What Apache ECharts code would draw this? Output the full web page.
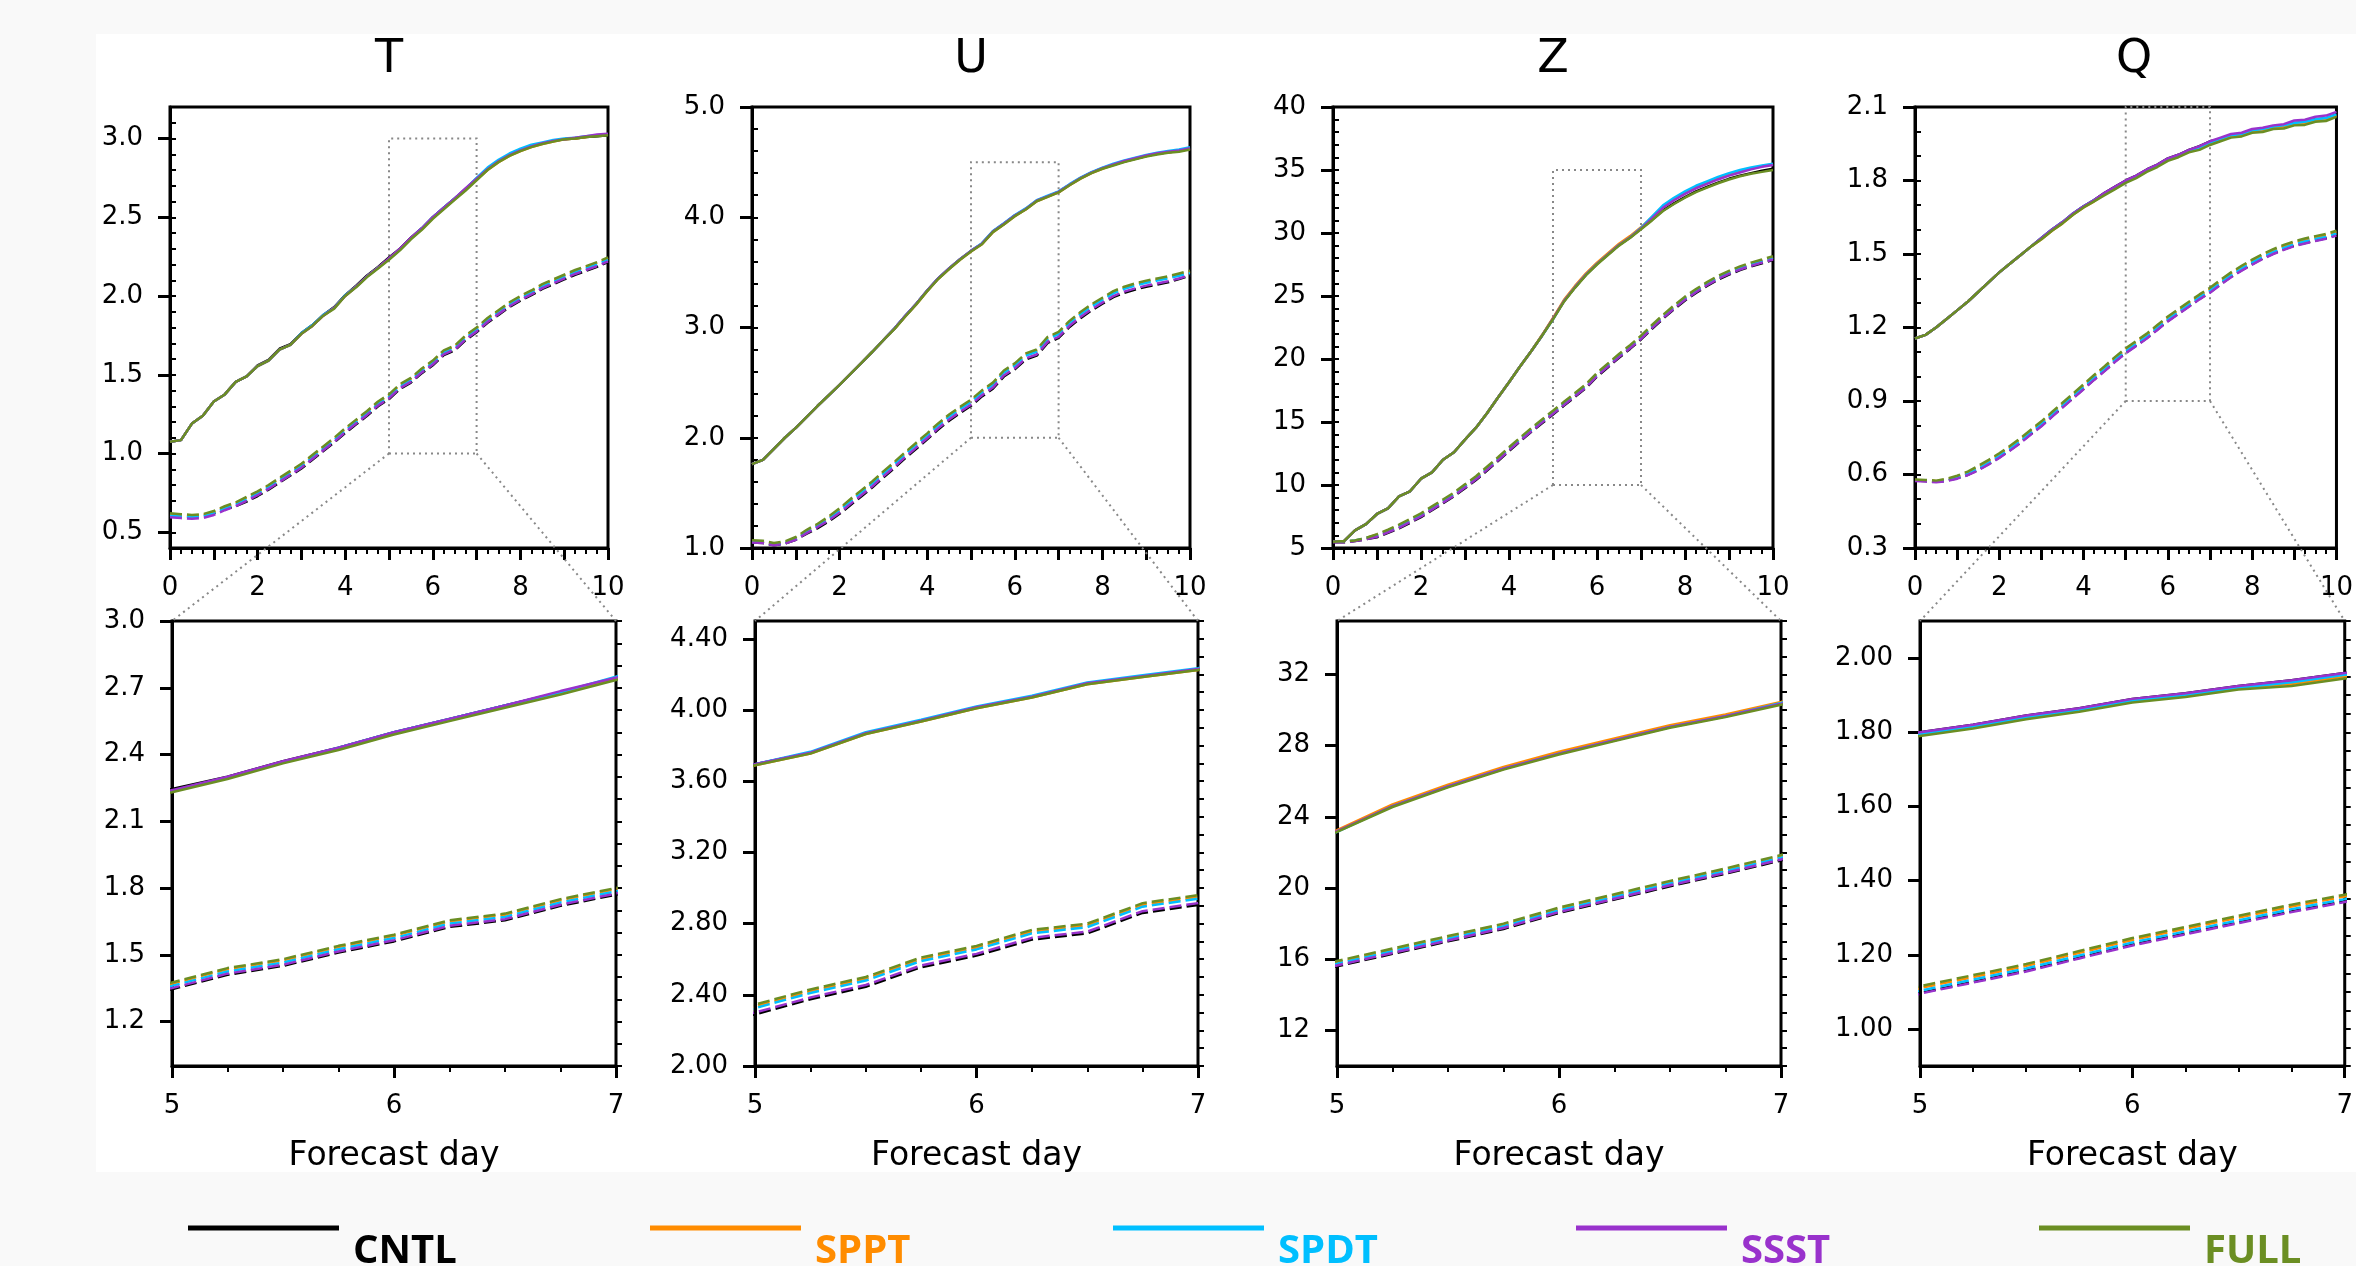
<!DOCTYPE html>
<html>
<head>
<meta charset="utf-8">
<title>RMSE and spread</title>
<script src="https://cdn.jsdelivr.net/npm/echarts@6/dist/echarts.min.js"></script>
<style>
  html, body { margin: 0; padding: 0; background: #f9f9f9; }
  #main { width: 2356px; height: 1266px; }
</style>
</head>
<body>
<div id="main"></div>
<script>
// forecast lead time (days), 6-hourly
var DAYS = [0, 0.25, 0.5, 0.75, 1, 1.25, 1.5, 1.75, 2, 2.25, 2.5, 2.75, 3, 3.25, 3.5, 3.75, 4, 4.25, 4.5, 4.75,
  5, 5.25, 5.5, 5.75, 6, 6.25, 6.5, 6.75, 7, 7.25, 7.5, 7.75, 8, 8.25, 8.5, 8.75, 9, 9.25, 9.5, 9.75, 10];

var EXPERIMENTS = ['CNTL', 'SPPT', 'SPDT', 'SSST', 'FULL'];
var COLORS = ['#000000', '#ff8c00', '#00bfff', '#9932cc', '#6b8e23'];

var X_LABELS = [0, 2, 4, 6, 8, 10];
var X_RANGE = [0, 10];
var ZOOM_DAYS = [5, 7];
var ZOOM_X_LABELS = [5, 6, 7];

// ---- T ----
var T_RANGE = [0.4, 3.2];
var T_TICKS = [0.5, 1.0, 1.5, 2.0, 2.5, 3.0];
var T_ZOOM_RANGE = [1.0, 3.0];
var T_ZOOM_TICKS = [1.2, 1.5, 1.8, 2.1, 2.4, 2.7, 3.0];
var T_RMSE_CNTL = [1.075, 1.085, 1.19, 1.24, 1.33, 1.375, 1.455, 1.49, 1.56, 1.595, 1.665, 1.695, 1.765, 1.815, 1.88, 1.93, 2.005, 2.065, 2.13, 2.185, 2.245, 2.3, 2.37, 2.43, 2.5, 2.56, 2.62, 2.68, 2.745, 2.805, 2.855, 2.895, 2.925, 2.95, 2.97, 2.985, 2.995, 3.0, 3.01, 3.015, 3.02];
var T_RMSE_SPPT = [1.075, 1.085, 1.19, 1.24, 1.33, 1.375, 1.455, 1.49, 1.555, 1.59, 1.66, 1.69, 1.76, 1.81, 1.875, 1.925, 2.0, 2.06, 2.125, 2.18, 2.235, 2.295, 2.365, 2.425, 2.495, 2.555, 2.615, 2.675, 2.74, 2.8, 2.85, 2.89, 2.92, 2.945, 2.965, 2.98, 2.995, 3.0, 3.01, 3.02, 3.025];
var T_RMSE_SPDT = [1.075, 1.085, 1.19, 1.24, 1.33, 1.375, 1.455, 1.49, 1.555, 1.59, 1.66, 1.69, 1.765, 1.815, 1.88, 1.925, 2.005, 2.06, 2.125, 2.18, 2.235, 2.295, 2.365, 2.43, 2.5, 2.56, 2.62, 2.68, 2.75, 2.815, 2.865, 2.905, 2.935, 2.96, 2.975, 2.99, 3.0, 3.005, 3.015, 3.02, 3.025];
var T_RMSE_SSST = [1.075, 1.085, 1.19, 1.24, 1.33, 1.375, 1.455, 1.49, 1.555, 1.59, 1.66, 1.69, 1.76, 1.81, 1.875, 1.925, 2.0, 2.06, 2.125, 2.18, 2.24, 2.3, 2.37, 2.43, 2.5, 2.56, 2.62, 2.685, 2.745, 2.805, 2.855, 2.895, 2.925, 2.95, 2.97, 2.985, 2.995, 3.005, 3.015, 3.025, 3.03];
var T_RMSE_FULL = [1.075, 1.085, 1.19, 1.24, 1.33, 1.375, 1.455, 1.49, 1.555, 1.59, 1.66, 1.69, 1.76, 1.81, 1.875, 1.92, 2.0, 2.055, 2.12, 2.175, 2.23, 2.29, 2.36, 2.42, 2.49, 2.55, 2.61, 2.67, 2.735, 2.8, 2.85, 2.89, 2.92, 2.945, 2.965, 2.98, 2.995, 3.0, 3.01, 3.015, 3.02];
var T_SPREAD_CNTL = [0.61, 0.605, 0.6, 0.605, 0.62, 0.645, 0.665, 0.695, 0.73, 0.77, 0.815, 0.86, 0.905, 0.96, 1.015, 1.07, 1.13, 1.185, 1.24, 1.3, 1.345, 1.41, 1.45, 1.51, 1.56, 1.625, 1.655, 1.72, 1.77, 1.83, 1.88, 1.93, 1.97, 2.005, 2.045, 2.075, 2.105, 2.135, 2.16, 2.185, 2.215];
var T_SPREAD_SPPT = [0.615, 0.61, 0.605, 0.61, 0.63, 0.66, 0.685, 0.72, 0.755, 0.795, 0.84, 0.885, 0.93, 0.985, 1.04, 1.095, 1.155, 1.21, 1.265, 1.325, 1.37, 1.435, 1.475, 1.535, 1.585, 1.65, 1.68, 1.745, 1.795, 1.855, 1.905, 1.955, 1.995, 2.03, 2.07, 2.1, 2.13, 2.16, 2.185, 2.21, 2.24];
var T_SPREAD_SPDT = [0.605, 0.6, 0.595, 0.6, 0.62, 0.65, 0.675, 0.71, 0.745, 0.785, 0.83, 0.875, 0.92, 0.975, 1.03, 1.085, 1.145, 1.2, 1.255, 1.315, 1.36, 1.425, 1.465, 1.525, 1.575, 1.64, 1.67, 1.735, 1.785, 1.845, 1.895, 1.945, 1.985, 2.02, 2.06, 2.09, 2.12, 2.15, 2.175, 2.2, 2.23];
var T_SPREAD_SSST = [0.595, 0.59, 0.585, 0.59, 0.61, 0.64, 0.665, 0.7, 0.735, 0.775, 0.82, 0.865, 0.91, 0.965, 1.02, 1.075, 1.135, 1.19, 1.245, 1.305, 1.35, 1.415, 1.455, 1.515, 1.565, 1.63, 1.66, 1.725, 1.775, 1.835, 1.885, 1.935, 1.975, 2.01, 2.05, 2.08, 2.11, 2.14, 2.165, 2.19, 2.22];
var T_SPREAD_FULL = [0.62, 0.615, 0.61, 0.615, 0.635, 0.665, 0.69, 0.725, 0.76, 0.8, 0.845, 0.89, 0.935, 0.99, 1.045, 1.1, 1.16, 1.215, 1.27, 1.33, 1.375, 1.44, 1.48, 1.54, 1.59, 1.655, 1.685, 1.75, 1.8, 1.86, 1.91, 1.96, 2.0, 2.035, 2.075, 2.105, 2.135, 2.165, 2.19, 2.215, 2.245];

// ---- U ----
var U_RANGE = [1.0, 5.0];
var U_TICKS = [1.0, 2.0, 3.0, 4.0, 5.0];
var U_ZOOM_RANGE = [2.0, 4.5];
var U_ZOOM_TICKS = [2.0, 2.4, 2.8, 3.2, 3.6, 4.0, 4.4];
var U_RMSE_CNTL = [1.76, 1.8, 1.9, 2.0, 2.09, 2.19, 2.29, 2.385, 2.48, 2.58, 2.68, 2.78, 2.885, 2.99, 3.105, 3.215, 3.335, 3.445, 3.535, 3.62, 3.695, 3.76, 3.87, 3.94, 4.015, 4.075, 4.15, 4.19, 4.23, 4.295, 4.355, 4.405, 4.445, 4.475, 4.505, 4.53, 4.555, 4.575, 4.59, 4.6, 4.62];
var U_RMSE_SPPT = [1.76, 1.8, 1.9, 2.0, 2.09, 2.19, 2.29, 2.385, 2.48, 2.58, 2.68, 2.78, 2.885, 2.985, 3.1, 3.21, 3.33, 3.44, 3.53, 3.615, 3.69, 3.755, 3.865, 3.935, 4.01, 4.07, 4.145, 4.185, 4.225, 4.29, 4.35, 4.4, 4.44, 4.475, 4.505, 4.53, 4.555, 4.575, 4.59, 4.6, 4.62];
var U_RMSE_SPDT = [1.76, 1.8, 1.9, 2.0, 2.09, 2.19, 2.29, 2.385, 2.48, 2.58, 2.68, 2.78, 2.885, 2.99, 3.105, 3.215, 3.335, 3.445, 3.535, 3.62, 3.695, 3.765, 3.875, 3.945, 4.02, 4.08, 4.155, 4.195, 4.235, 4.3, 4.36, 4.41, 4.45, 4.485, 4.515, 4.54, 4.565, 4.585, 4.6, 4.615, 4.635];
var U_RMSE_SSST = [1.76, 1.8, 1.9, 2.0, 2.09, 2.19, 2.29, 2.385, 2.48, 2.58, 2.68, 2.78, 2.885, 2.99, 3.105, 3.215, 3.335, 3.445, 3.535, 3.62, 3.695, 3.76, 3.87, 3.94, 4.015, 4.075, 4.15, 4.19, 4.23, 4.295, 4.355, 4.405, 4.445, 4.48, 4.51, 4.535, 4.56, 4.58, 4.595, 4.605, 4.625];
var U_RMSE_FULL = [1.76, 1.8, 1.9, 2.0, 2.09, 2.19, 2.29, 2.385, 2.48, 2.58, 2.68, 2.78, 2.885, 2.985, 3.1, 3.21, 3.33, 3.44, 3.53, 3.615, 3.69, 3.755, 3.865, 3.935, 4.01, 4.07, 4.145, 4.185, 4.225, 4.29, 4.35, 4.4, 4.44, 4.47, 4.5, 4.525, 4.55, 4.57, 4.585, 4.595, 4.615];
var U_SPREAD_CNTL = [1.05, 1.045, 1.025, 1.04, 1.075, 1.13, 1.18, 1.24, 1.31, 1.39, 1.47, 1.55, 1.64, 1.725, 1.815, 1.9, 1.985, 2.075, 2.155, 2.225, 2.29, 2.375, 2.445, 2.555, 2.62, 2.71, 2.745, 2.86, 2.905, 3.005, 3.085, 3.155, 3.215, 3.275, 3.315, 3.345, 3.37, 3.39, 3.41, 3.44, 3.47];
var U_SPREAD_SPPT = [1.06, 1.055, 1.035, 1.05, 1.09, 1.155, 1.21, 1.275, 1.35, 1.435, 1.515, 1.595, 1.685, 1.77, 1.86, 1.945, 2.03, 2.12, 2.2, 2.27, 2.335, 2.42, 2.49, 2.6, 2.665, 2.755, 2.79, 2.905, 2.95, 3.05, 3.13, 3.2, 3.26, 3.32, 3.36, 3.39, 3.415, 3.435, 3.455, 3.48, 3.505];
var U_SPREAD_SPDT = [1.055, 1.05, 1.03, 1.045, 1.08, 1.145, 1.2, 1.265, 1.34, 1.425, 1.505, 1.585, 1.675, 1.76, 1.85, 1.935, 2.02, 2.11, 2.19, 2.26, 2.325, 2.41, 2.48, 2.59, 2.655, 2.745, 2.78, 2.895, 2.94, 3.04, 3.12, 3.19, 3.25, 3.31, 3.35, 3.38, 3.405, 3.425, 3.445, 3.47, 3.495];
var U_SPREAD_SSST = [1.05, 1.045, 1.025, 1.04, 1.075, 1.135, 1.19, 1.25, 1.32, 1.4, 1.48, 1.56, 1.65, 1.735, 1.825, 1.91, 1.995, 2.085, 2.165, 2.235, 2.3, 2.385, 2.455, 2.565, 2.63, 2.72, 2.755, 2.87, 2.915, 3.015, 3.095, 3.165, 3.225, 3.285, 3.325, 3.355, 3.38, 3.4, 3.42, 3.445, 3.475];
var U_SPREAD_FULL = [1.07, 1.065, 1.045, 1.06, 1.1, 1.165, 1.22, 1.285, 1.36, 1.445, 1.525, 1.605, 1.695, 1.78, 1.87, 1.955, 2.04, 2.13, 2.21, 2.28, 2.345, 2.43, 2.5, 2.61, 2.675, 2.765, 2.8, 2.915, 2.96, 3.06, 3.14, 3.21, 3.27, 3.33, 3.37, 3.4, 3.425, 3.445, 3.465, 3.49, 3.515];

// ---- Z ----
var Z_RANGE = [5, 40];
var Z_TICKS = [5, 10, 15, 20, 25, 30, 35, 40];
var Z_ZOOM_RANGE = [10, 35];
var Z_ZOOM_TICKS = [12, 16, 20, 24, 28, 32];
var Z_RMSE_CNTL = [5.5, 5.55, 6.4, 6.9, 7.7, 8.15, 9.1, 9.5, 10.5, 11.0, 12.0, 12.6, 13.6, 14.55, 15.7, 16.95, 18.15, 19.4, 20.6, 21.85, 23.2, 24.6, 25.7, 26.7, 27.55, 28.3, 29.05, 29.65, 30.35, 31.05, 31.8, 32.35, 32.85, 33.3, 33.65, 34.0, 34.3, 34.55, 34.75, 34.95, 35.1];
var Z_RMSE_SPPT = [5.5, 5.55, 6.4, 6.9, 7.7, 8.15, 9.1, 9.5, 10.5, 11.0, 12.0, 12.6, 13.6, 14.55, 15.7, 16.95, 18.15, 19.4, 20.6, 21.9, 23.25, 24.7, 25.8, 26.8, 27.65, 28.4, 29.15, 29.75, 30.45, 31.25, 32.1, 32.7, 33.2, 33.65, 34.0, 34.35, 34.65, 34.9, 35.1, 35.3, 35.45];
var Z_RMSE_SPDT = [5.5, 5.55, 6.4, 6.9, 7.7, 8.15, 9.1, 9.5, 10.5, 11.0, 12.0, 12.6, 13.6, 14.55, 15.7, 16.95, 18.15, 19.4, 20.6, 21.85, 23.15, 24.6, 25.7, 26.7, 27.55, 28.3, 29.05, 29.65, 30.4, 31.3, 32.2, 32.8, 33.3, 33.75, 34.1, 34.45, 34.75, 35.0, 35.2, 35.35, 35.5];
var Z_RMSE_SSST = [5.5, 5.55, 6.4, 6.9, 7.7, 8.15, 9.1, 9.5, 10.5, 11.0, 12.0, 12.6, 13.6, 14.55, 15.7, 16.95, 18.15, 19.4, 20.6, 21.85, 23.2, 24.6, 25.7, 26.7, 27.55, 28.3, 29.05, 29.65, 30.35, 31.15, 32.0, 32.6, 33.1, 33.55, 33.9, 34.25, 34.55, 34.8, 35.05, 35.25, 35.4];
var Z_RMSE_FULL = [5.5, 5.55, 6.4, 6.9, 7.7, 8.15, 9.1, 9.5, 10.5, 11.0, 12.0, 12.6, 13.6, 14.55, 15.7, 16.95, 18.15, 19.4, 20.6, 21.85, 23.15, 24.55, 25.65, 26.65, 27.5, 28.25, 29.0, 29.6, 30.3, 31.0, 31.75, 32.3, 32.8, 33.25, 33.6, 33.95, 34.25, 34.5, 34.7, 34.85, 35.0];
var Z_SPREAD_CNTL = [5.45, 5.45, 5.55, 5.7, 5.85, 6.2, 6.55, 7.0, 7.45, 8.0, 8.55, 9.1, 9.75, 10.4, 11.15, 11.9, 12.7, 13.45, 14.2, 14.9, 15.6, 16.3, 17.0, 17.7, 18.6, 19.35, 20.1, 20.8, 21.55, 22.4, 23.2, 23.95, 24.65, 25.25, 25.8, 26.3, 26.7, 27.05, 27.35, 27.6, 27.85];
var Z_SPREAD_SPPT = [5.5, 5.5, 5.6, 5.8, 6.05, 6.4, 6.8, 7.2, 7.65, 8.2, 8.75, 9.3, 9.95, 10.6, 11.35, 12.1, 12.9, 13.65, 14.4, 15.1, 15.8, 16.5, 17.2, 17.9, 18.8, 19.55, 20.3, 21.0, 21.75, 22.6, 23.4, 24.15, 24.85, 25.45, 26.0, 26.5, 26.9, 27.25, 27.55, 27.8, 28.05];
var Z_SPREAD_SPDT = [5.5, 5.5, 5.6, 5.8, 6.0, 6.35, 6.7, 7.15, 7.6, 8.15, 8.7, 9.25, 9.9, 10.55, 11.3, 12.05, 12.85, 13.6, 14.35, 15.05, 15.75, 16.45, 17.15, 17.85, 18.75, 19.5, 20.25, 20.95, 21.7, 22.55, 23.35, 24.1, 24.8, 25.4, 25.95, 26.45, 26.85, 27.2, 27.5, 27.75, 28.0];
var Z_SPREAD_SSST = [5.45, 5.45, 5.55, 5.7, 5.9, 6.25, 6.6, 7.05, 7.5, 8.05, 8.6, 9.15, 9.8, 10.45, 11.2, 11.95, 12.75, 13.5, 14.25, 14.95, 15.65, 16.35, 17.05, 17.75, 18.65, 19.4, 20.15, 20.85, 21.6, 22.45, 23.25, 24.0, 24.7, 25.3, 25.85, 26.35, 26.75, 27.1, 27.4, 27.65, 27.9];
var Z_SPREAD_FULL = [5.5, 5.5, 5.6, 5.8, 6.1, 6.45, 6.85, 7.3, 7.75, 8.3, 8.85, 9.4, 10.05, 10.7, 11.45, 12.2, 13.0, 13.75, 14.5, 15.2, 15.9, 16.6, 17.3, 18.0, 18.9, 19.65, 20.4, 21.1, 21.85, 22.7, 23.5, 24.25, 24.95, 25.55, 26.1, 26.6, 27.0, 27.35, 27.65, 27.9, 28.15];

// ---- Q ----
var Q_RANGE = [0.3, 2.1];
var Q_TICKS = [0.3, 0.6, 0.9, 1.2, 1.5, 1.8, 2.1];
var Q_ZOOM_RANGE = [0.9, 2.1];
var Q_ZOOM_TICKS = [1.0, 1.2, 1.4, 1.6, 1.8, 2.0];
var Q_RMSE_CNTL = [1.155, 1.17, 1.2, 1.235, 1.27, 1.305, 1.345, 1.385, 1.425, 1.46, 1.495, 1.53, 1.565, 1.6, 1.63, 1.665, 1.695, 1.72, 1.75, 1.775, 1.8, 1.82, 1.845, 1.865, 1.89, 1.905, 1.925, 1.94, 1.96, 1.97, 1.985, 1.99, 2.005, 2.008, 2.02, 2.022, 2.035, 2.037, 2.05, 2.053, 2.07];
var Q_RMSE_SPPT = [1.155, 1.17, 1.2, 1.235, 1.27, 1.305, 1.345, 1.385, 1.425, 1.46, 1.495, 1.53, 1.56, 1.595, 1.625, 1.66, 1.69, 1.715, 1.745, 1.77, 1.795, 1.815, 1.84, 1.86, 1.885, 1.9, 1.92, 1.93, 1.95, 1.965, 1.98, 1.985, 2.0, 2.005, 2.015, 2.018, 2.03, 2.033, 2.045, 2.05, 2.065];
var Q_RMSE_SPDT = [1.155, 1.17, 1.2, 1.235, 1.27, 1.305, 1.345, 1.385, 1.425, 1.46, 1.495, 1.53, 1.565, 1.6, 1.63, 1.665, 1.695, 1.72, 1.745, 1.77, 1.795, 1.815, 1.84, 1.86, 1.885, 1.9, 1.92, 1.935, 1.955, 1.97, 1.985, 1.99, 2.005, 2.01, 2.02, 2.025, 2.035, 2.04, 2.05, 2.055, 2.07];
var Q_RMSE_SSST = [1.155, 1.17, 1.2, 1.235, 1.27, 1.305, 1.345, 1.385, 1.425, 1.46, 1.495, 1.53, 1.565, 1.6, 1.63, 1.665, 1.695, 1.72, 1.75, 1.775, 1.8, 1.82, 1.845, 1.865, 1.89, 1.905, 1.925, 1.94, 1.96, 1.975, 1.99, 1.995, 2.01, 2.015, 2.025, 2.03, 2.045, 2.048, 2.06, 2.065, 2.08];
var Q_RMSE_FULL = [1.155, 1.17, 1.2, 1.235, 1.27, 1.305, 1.345, 1.385, 1.425, 1.46, 1.495, 1.53, 1.56, 1.595, 1.625, 1.66, 1.69, 1.715, 1.74, 1.765, 1.79, 1.81, 1.835, 1.855, 1.88, 1.895, 1.915, 1.925, 1.945, 1.96, 1.975, 1.98, 1.995, 1.998, 2.01, 2.012, 2.025, 2.027, 2.04, 2.043, 2.06];
var Q_SPREAD_CNTL = [0.575, 0.573, 0.57, 0.575, 0.585, 0.599, 0.619, 0.643, 0.67, 0.699, 0.73, 0.765, 0.799, 0.837, 0.875, 0.912, 0.95, 0.988, 1.024, 1.062, 1.097, 1.127, 1.157, 1.192, 1.227, 1.257, 1.287, 1.317, 1.344, 1.377, 1.407, 1.434, 1.459, 1.482, 1.502, 1.519, 1.534, 1.545, 1.555, 1.564, 1.577];
var Q_SPREAD_SPPT = [0.578, 0.576, 0.573, 0.579, 0.591, 0.607, 0.63, 0.655, 0.682, 0.711, 0.743, 0.778, 0.812, 0.85, 0.888, 0.925, 0.963, 1.001, 1.037, 1.075, 1.11, 1.14, 1.17, 1.205, 1.24, 1.27, 1.3, 1.33, 1.357, 1.39, 1.42, 1.447, 1.472, 1.495, 1.515, 1.532, 1.547, 1.558, 1.568, 1.577, 1.59];
var Q_SPREAD_SPDT = [0.576, 0.574, 0.571, 0.576, 0.587, 0.602, 0.623, 0.648, 0.675, 0.704, 0.736, 0.771, 0.805, 0.843, 0.881, 0.918, 0.956, 0.994, 1.03, 1.068, 1.103, 1.133, 1.163, 1.198, 1.233, 1.263, 1.293, 1.323, 1.35, 1.383, 1.413, 1.44, 1.465, 1.488, 1.508, 1.525, 1.54, 1.551, 1.561, 1.57, 1.583];
var Q_SPREAD_SSST = [0.573, 0.571, 0.568, 0.573, 0.583, 0.597, 0.617, 0.641, 0.668, 0.697, 0.728, 0.763, 0.797, 0.835, 0.873, 0.91, 0.948, 0.986, 1.022, 1.06, 1.095, 1.125, 1.155, 1.19, 1.225, 1.255, 1.285, 1.315, 1.342, 1.375, 1.405, 1.432, 1.457, 1.48, 1.5, 1.517, 1.532, 1.543, 1.553, 1.562, 1.575];
var Q_SPREAD_FULL = [0.58, 0.578, 0.575, 0.582, 0.595, 0.612, 0.635, 0.66, 0.687, 0.716, 0.748, 0.783, 0.817, 0.855, 0.893, 0.93, 0.968, 1.006, 1.042, 1.08, 1.115, 1.145, 1.175, 1.21, 1.245, 1.275, 1.305, 1.335, 1.362, 1.395, 1.425, 1.452, 1.477, 1.5, 1.52, 1.537, 1.552, 1.563, 1.573, 1.582, 1.595];

var panels = [
  { name: 'T', range: T_RANGE, ticks: T_TICKS, minor: 0.1, digits: 1,
    zoomRange: T_ZOOM_RANGE, zoomTicks: T_ZOOM_TICKS, zoomMinor: 0.1, zoomDigits: 1,
    rmse: [T_RMSE_CNTL, T_RMSE_SPPT, T_RMSE_SPDT, T_RMSE_SSST, T_RMSE_FULL],
    spread: [T_SPREAD_CNTL, T_SPREAD_SPPT, T_SPREAD_SPDT, T_SPREAD_SSST, T_SPREAD_FULL] },
  { name: 'U', range: U_RANGE, ticks: U_TICKS, minor: 0.2, digits: 1,
    zoomRange: U_ZOOM_RANGE, zoomTicks: U_ZOOM_TICKS, zoomMinor: 0.1, zoomDigits: 2,
    rmse: [U_RMSE_CNTL, U_RMSE_SPPT, U_RMSE_SPDT, U_RMSE_SSST, U_RMSE_FULL],
    spread: [U_SPREAD_CNTL, U_SPREAD_SPPT, U_SPREAD_SPDT, U_SPREAD_SSST, U_SPREAD_FULL] },
  { name: 'Z', range: Z_RANGE, ticks: Z_TICKS, minor: 1, digits: 0,
    zoomRange: Z_ZOOM_RANGE, zoomTicks: Z_ZOOM_TICKS, zoomMinor: 1, zoomDigits: 0,
    rmse: [Z_RMSE_CNTL, Z_RMSE_SPPT, Z_RMSE_SPDT, Z_RMSE_SSST, Z_RMSE_FULL],
    spread: [Z_SPREAD_CNTL, Z_SPREAD_SPPT, Z_SPREAD_SPDT, Z_SPREAD_SSST, Z_SPREAD_FULL] },
  { name: 'Q', range: Q_RANGE, ticks: Q_TICKS, minor: 0.1, digits: 1,
    zoomRange: Q_ZOOM_RANGE, zoomTicks: Q_ZOOM_TICKS, zoomMinor: 0.05, zoomDigits: 2,
    rmse: [Q_RMSE_CNTL, Q_RMSE_SPPT, Q_RMSE_SPDT, Q_RMSE_SSST, Q_RMSE_FULL],
    spread: [Q_SPREAD_CNTL, Q_SPREAD_SPPT, Q_SPREAD_SPDT, Q_SPREAD_SSST, Q_SPREAD_FULL] }
];

// layout (px)
var FONT = 'DejaVu Sans';
var TOP_LEFT = [170, 752, 1333, 1915];
var TOP_WIDTH = [438, 438, 440, 438];
var BOT_LEFT = [172, 755, 1337, 1920];
var BOT_WIDTH = [444, 443, 444, 444];

var chart = echarts.init(document.getElementById('main'), null, { renderer: 'canvas' });

var blackLine = { color: '#000', width: 3 };
var labelStyle = { color: '#000', fontSize: 26, fontFamily: FONT };

function makeXAxis(gi, range, labels, withName) {
  var ax = {
    type: 'value', gridIndex: gi, min: range[0], max: range[1], interval: 1,
    axisLine: { show: true, onZero: false, lineStyle: blackLine },
    axisTick: { show: true, length: 12, lineStyle: blackLine },
    minorTick: { show: true, splitNumber: 4, length: 6, lineStyle: { color: '#000', width: 2 } },
    axisLabel: Object.assign({ customValues: labels, margin: 27 }, labelStyle),
    splitLine: { show: false }
  };
  if (withName) {
    ax.name = 'Forecast day';
    ax.nameLocation = 'middle';
    ax.nameGap = 74;
    ax.nameTextStyle = { color: '#000', fontSize: 33, fontFamily: FONT };
  }
  return ax;
}

function makeYAxes(gi, range, ticks, minor, digits) {
  return [{
    type: 'value', gridIndex: gi, min: range[0], max: range[1],
    axisLine: { show: true, onZero: false, lineStyle: blackLine },
    axisTick: { show: true, customValues: ticks, length: 12, lineStyle: blackLine },
    axisLabel: Object.assign({
      customValues: ticks, margin: 27,
      formatter: function (v) { return v.toFixed(digits); }
    }, labelStyle),
    splitLine: { show: false }
  }, {
    type: 'value', gridIndex: gi, min: range[0], max: range[1], interval: minor,
    axisLine: { show: false },
    axisTick: { show: true, length: 6, lineStyle: { color: '#000', width: 2 } },
    axisLabel: { show: false },
    splitLine: { show: false }
  }];
}

var grids = [], xAxes = [], yAxes = [], series = [];

panels.forEach(function (p, pi) {
  var gTop = pi * 2, gBot = pi * 2 + 1;
  grids.push({ left: TOP_LEFT[pi], top: 107, width: TOP_WIDTH[pi], height: 441,
    show: true, borderColor: '#000', borderWidth: 3, backgroundColor: '#fff' });
  grids.push({ left: BOT_LEFT[pi], top: 621, width: BOT_WIDTH[pi], height: 445,
    show: true, borderColor: '#000', borderWidth: 3, backgroundColor: '#fff' });

  xAxes.push(makeXAxis(gTop, X_RANGE, X_LABELS, false));
  xAxes.push(makeXAxis(gBot, ZOOM_DAYS, ZOOM_X_LABELS, true));

  yAxes.push.apply(yAxes, makeYAxes(gTop, p.range, p.ticks, p.minor, p.digits));
  yAxes.push.apply(yAxes, makeYAxes(gBot, p.zoomRange, p.zoomTicks, p.zoomMinor, p.zoomDigits));

  [[gTop, pi * 4], [gBot, pi * 4 + 2]].forEach(function (ax, k) {
    ['spread', 'rmse'].forEach(function (kind) {
      EXPERIMENTS.forEach(function (exp, ei) {
        var s = {
          name: exp, type: 'line',
          xAxisIndex: ax[0], yAxisIndex: ax[1],
          data: DAYS.map(function (d, i) { return [d, p[kind][ei][i]]; }),
          showSymbol: false, symbol: 'none', smooth: false, clip: true,
          lineStyle: { color: COLORS[ei], width: 2.5, type: kind === 'spread' ? [12, 5] : 'solid' },
          itemStyle: { color: COLORS[ei] },
          silent: true, animation: false, z: 3
        };
        // dotted box marking the zoomed window
        if (k === 0 && kind === 'rmse' && ei === EXPERIMENTS.length - 1) {
          s.markArea = {
            silent: true,
            itemStyle: { color: 'rgba(0,0,0,0)', borderColor: '#888', borderWidth: 2, borderType: [2, 4] },
            label: { show: false },
            data: [[{ coord: [ZOOM_DAYS[0], p.zoomRange[0]] }, { coord: [ZOOM_DAYS[1], p.zoomRange[1]] }]]
          };
        }
        series.push(s);
      });
    });
  });
});

function staticGraphics() {
  var g = [];
  g.push({ type: 'rect', z: -10, silent: true, shape: { x: 96, y: 34, width: 2300, height: 1138 }, style: { fill: '#fff' } });
  panels.forEach(function (p, pi) {
    g.push({ type: 'text', silent: true, x: TOP_LEFT[pi] + TOP_WIDTH[pi] / 2, y: 60,
      style: { text: p.name, fill: '#000', font: '46px "' + FONT + '"', align: 'center', verticalAlign: 'middle' } });
  });
  var LEGEND_X = [188, 650, 1113, 1576, 2039];
  EXPERIMENTS.forEach(function (exp, ei) {
    g.push({ type: 'line', silent: true, shape: { x1: LEGEND_X[ei], y1: 1228, x2: LEGEND_X[ei] + 151, y2: 1228 },
      style: { stroke: COLORS[ei], lineWidth: 5 } });
    g.push({ type: 'text', silent: true, x: LEGEND_X[ei] + 165, y: 1252,
      style: { text: exp, fill: COLORS[ei], font: 'bold 40px "Open Sans"', align: 'left', verticalAlign: 'middle' } });
  });
  return g;
}

chart.setOption({
  backgroundColor: '#f9f9f9',
  animation: false,
  grid: grids,
  xAxis: xAxes,
  yAxis: yAxes,
  series: series,
  graphic: staticGraphics()
});

// dotted connectors from the box corners to the zoomed panel corners
var connectors = [];
panels.forEach(function (p, pi) {
  ZOOM_DAYS.forEach(function (d) {
    var a = chart.convertToPixel({ xAxisIndex: pi * 2, yAxisIndex: pi * 4 }, [d, p.zoomRange[0]]);
    var b = chart.convertToPixel({ xAxisIndex: pi * 2 + 1, yAxisIndex: pi * 4 + 2 }, [d, p.zoomRange[1]]);
    connectors.push({ type: 'line', silent: true, z: 10,
      shape: { x1: a[0], y1: a[1], x2: b[0], y2: b[1] },
      style: { stroke: '#888', lineWidth: 2, lineDash: [2, 4] } });
  });
});
chart.setOption({ graphic: staticGraphics().concat(connectors) });
</script>
</body>
</html>
